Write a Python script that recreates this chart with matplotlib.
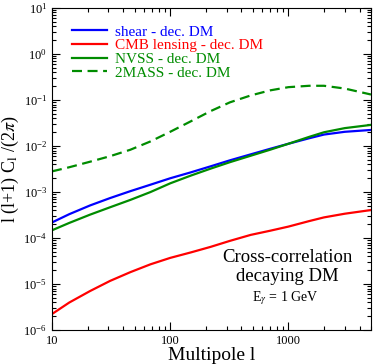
import matplotlib
matplotlib.use("Agg")
import matplotlib.pyplot as plt
import numpy as np
from matplotlib.ticker import LogLocator, NullFormatter, FixedLocator, FixedFormatter

plt.rcParams['font.family'] = ['Liberation Serif', 'DejaVu Serif']
plt.rcParams['mathtext.fontset'] = 'stix'

# multipoles and log10 of l(l+1)C_l/(2pi)
ell = [10, 14, 21, 31, 46, 68, 100, 150, 220, 320, 480, 700, 1000, 1500, 2000, 3000, 5000]
log_shear = [-3.66, -3.48, -3.29, -3.13, -2.98, -2.84, -2.70, -2.57, -2.44, -2.31, -2.18, -2.06, -1.95, -1.83, -1.75, -1.69, -1.65]
log_cmb = [-5.65, -5.40, -5.15, -4.93, -4.74, -4.57, -4.43, -4.31, -4.19, -4.06, -3.93, -3.84, -3.75, -3.63, -3.55, -3.47, -3.39]
log_nvss = [-3.83, -3.67, -3.49, -3.33, -3.17, -3.00, -2.81, -2.64, -2.49, -2.35, -2.21, -2.08, -1.95, -1.80, -1.70, -1.61, -1.54]
log_2mass = [-2.55, -2.46, -2.34, -2.22, -2.08, -1.90, -1.69, -1.46, -1.24, -1.05, -0.90, -0.79, -0.72, -0.69, -0.69, -0.75, -0.88]

labels = ["shear - dec. DM", "CMB lensing - dec. DM", "NVSS - dec. DM", "2MASS - dec. DM"]
colors = ["#0000ff", "#ff0000", "#008c00", "#008c00"]
ytick_vals = [1e-6, 1e-5, 1e-4, 1e-3, 1e-2, 1e-1, 1e0, 1e1]

fig = plt.figure(figsize=(3.74, 3.64), dpi=100)
ax = fig.add_axes([0.139, 0.093, 0.853, 0.885])

series = [log_shear, log_cmb, log_nvss, log_2mass]
for vals, lab, col in zip(series, labels, colors):
    if 'MASS' in lab:
        ax.plot(ell, 10.0 ** np.array(vals), color=col, lw=1.6, ls='--',
                dashes=(4.5, 2.5), label=lab)
    else:
        ax.plot(ell, 10.0 ** np.array(vals), color=col, lw=1.6, label=lab)

ax.set_xscale('log')
ax.set_yscale('log')
ax.set_xlim(10, 5000)
ax.set_ylim(1e-6, 10)

ax.xaxis.set_major_locator(FixedLocator([10, 100, 1000]))
ax.xaxis.set_major_formatter(FixedFormatter(['10', '100', '1000']))
ax.xaxis.set_minor_locator(LogLocator(base=10, subs=np.arange(2, 10)))
ax.xaxis.set_minor_formatter(NullFormatter())
ax.yaxis.set_major_locator(FixedLocator(ytick_vals))
ax.yaxis.set_minor_locator(LogLocator(base=10, subs=np.arange(2, 10), numticks=20))
ax.yaxis.set_minor_formatter(NullFormatter())

ax.tick_params(which='both', direction='in', top=True, right=True, labelsize=9)
ax.tick_params(which='major', length=6, width=0.8)
ax.tick_params(which='minor', length=3, width=0.8)

ax.set_xlabel("Multipole l", fontsize=14, labelpad=0)
ax.set_ylabel(r"l (l+1) C$_{\mathrm{l}}$ /(2$\pi$)", fontsize=13, labelpad=2)

leg = ax.legend(loc='upper left', bbox_to_anchor=(0.02, 0.99), frameon=False,
                fontsize=11, handlelength=2.3, handletextpad=0.5, labelspacing=0.0)
for txt, col in zip(leg.get_texts(), colors):
    txt.set_color(col)

ax.text(0.738, 0.195, "Cross-correlation\ndecaying DM", transform=ax.transAxes,
        ha='center', va='center', fontsize=13.5, linespacing=1.15)
ax.text(0.732, 0.1, r"E$_{\gamma}$ = 1 GeV", transform=ax.transAxes,
        ha='center', va='center', fontsize=10)

fig.savefig("out.png", dpi=100)
